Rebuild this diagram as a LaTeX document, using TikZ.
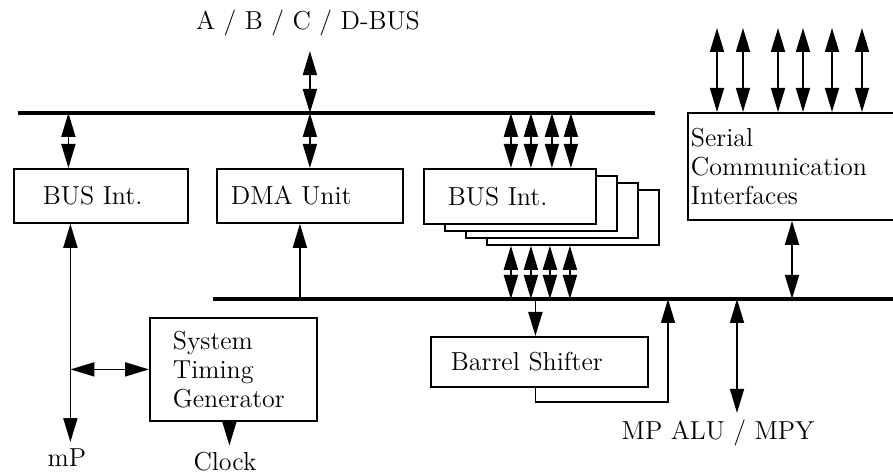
\documentclass[tikz,border=0pt]{standalone}
\usepackage{tikz}
\usetikzlibrary{arrows.meta}

\begin{document}
\begin{tikzpicture}[
  x=0.5pt, y=-0.5pt,
  blk/.style={draw=black, line width=0.9pt, fill=white, anchor=north west, align=left,
              inner ysep=0pt, font=\fontsize{13}{14.5}\selectfont},
  shadow/.style={blk, minimum width=86pt, minimum height=27.5pt},
  bus/.style={line width=1.8pt},
  dbl/.style={{Triangle[length=12pt,width=7pt]}-{Triangle[length=12pt,width=7pt]}, line width=0.9pt},
  sgl/.style={-{Triangle[length=12pt,width=7pt]}, line width=0.9pt},
  lbl/.style={font=\fontsize{13}{14.5}\selectfont}
]
  \useasboundingbox (0,0) rectangle (893,475);

  % Buses
  \coordinate (tbL) at (18,113);
  \coordinate (tbR) at (655,113);
  \coordinate (lbL) at (213,299);
  \coordinate (lbR) at (896,299);
  \draw[bus] (tbL) -- (tbR);
  \draw[bus] (lbL) -- (lbR);

  % Blocks
  \node[blk, text width=58pt, inner xsep=14.5pt, minimum height=27pt] (busL) at (13,168) {BUS Int.};
  \node[blk, text width=79pt, inner xsep=7pt, minimum height=27pt] (dma) at (216,168) {DMA Unit};
  \node[shadow] (busR4) at (486,189) {};
  \node[shadow] (busR3) at (465,182) {};
  \node[shadow] (busR2) at (444,175) {};
  \node[blk, text width=62pt, inner xsep=12pt, minimum height=27.5pt] (busR) at (423,168) {BUS Int.};
  \node[blk, text width=101pt, inner xsep=1.5pt, minimum height=53.5pt] (sci) at (687,112)
       {Serial\\Communication\\Interfaces};
  \node[blk, text width=60.5pt, inner xsep=11.5pt, minimum height=51.5pt] (stg) at (149,317)
       {System\\Timing\\Generator};
  \node[blk, text width=88.5pt, inner xsep=10pt, minimum height=25pt] (bsh) at (430,336) {Barrel Shifter};

  % Labels
  \node[lbl] (abcd) at (308,23) {A / B / C / D-BUS};
  \node[lbl] (mp) at (67,458) {mP};
  \node[lbl] (clk) at (225,462) {Clock};
  \node[lbl] (alu) at (718,433) {MP ALU / MPY};

  % Upper bus
  \draw[dbl] ([yshift=-4pt]abcd.south -| dma.north) -- (dma.north |- tbL);
  \draw[dbl] (dma.north |- tbL) -- (dma.north);
  \draw[dbl] ([xshift=-16.25pt]busL.north |- tbL) -- ([xshift=-16.25pt]busL.north);
  \foreach \dx in {0.5,10.5,21,30.5}
    \draw[dbl] ([xshift=\dx pt]busR.north |- tbL) -- ([xshift=\dx pt]busR.north);
  \foreach \dx in {15,28,45.5,58,72.5,87.5}
    \draw[dbl] ([xshift=\dx pt]sci.north west) -- ++(0,-84);

  % Lower bus
  \foreach \dx in {0.5,10.5,20,30}
    \draw[dbl] ([xshift=\dx pt]busR.north |- busR4.south) -- ([xshift=\dx pt]busR.north |- lbL);
  \draw[dbl] ([xshift=52.5pt]sci.south west) -- ([xshift=52.5pt]sci.south west |- lbL);
  \draw[sgl] ([xshift=-5pt]dma.south |- lbL) -- ([xshift=-5pt]dma.south);
  \draw[sgl] ([xshift=-2pt]bsh.north |- lbL) -- ([xshift=-2pt]bsh.north);
  \coordinate (bret) at (668,402);
  \draw[sgl, line width=0.7pt] ([xshift=-2pt]bsh.south) |- (bret) -- (bret |- lbL);
  \draw[dbl] ([xshift=9.5pt]alu.north |- lbL) -- ([xshift=9.5pt]alu.north);

  % Processor side
  \draw[dbl] ([xshift=-15.25pt]busL.south) -- ([xshift=-15.25pt]busL.south |- mp.north);
  \draw[dbl] ([xshift=-15.25pt]busL.south |- stg.west) -- (stg.west);
  \draw[sgl] ([xshift=-2pt]stg.south) -- ([xshift=-2pt]stg.south |- clk.north);
\end{tikzpicture}
\end{document}
